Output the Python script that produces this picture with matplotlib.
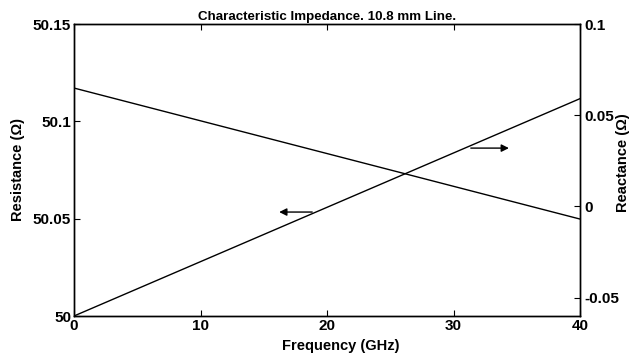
import matplotlib
matplotlib.use("Agg")
import matplotlib.pyplot as plt

plt.rcParams['font.family'] = ['Liberation Sans', 'DejaVu Sans']
plt.rcParams['font.weight'] = 'bold'

freq = [0, 40]
resistance = [50.1171, 50.0498]
reactance = [-0.06, 0.0591]
x_ticks = [0, 10, 20, 30, 40]
left_ticks = [50, 50.05, 50.1, 50.15]
left_labels = ['50', '50.05', '50.1', '50.15']
right_ticks = [-0.05, 0, 0.05, 0.1]
right_labels = ['-0.05', '0', '0.05', '0.1']

fig = plt.figure(figsize=(6.42, 3.56), dpi=100)
ax = fig.add_axes([74/642, 1-316/356, (580-74)/642, (316-24)/356])
ax.plot(freq, resistance, color='black', lw=1)
ax.set_xlim(0, 40)
ax.set_ylim(50, 50.15)
ax.set_xticks(x_ticks)
ax.set_xticklabels([str(t) for t in x_ticks])
ax.set_yticks(left_ticks)
ax.set_yticklabels(left_labels)
ax.tick_params(direction='in', length=4, labelsize=11, top=True, pad=2)
ax.set_xlabel('Frequency (GHz)', fontsize=10.5, fontweight='bold')
ax.xaxis.set_label_coords(0.528, -0.103)
ax.xaxis.label.set_va('center')
ax.set_ylabel('Resistance (Ω)', fontsize=10.5, fontweight='bold')
ax.yaxis.set_label_coords(-0.111, 0.5)
ax.yaxis.label.set_va('center')
ax.set_title('Characteristic Impedance. 10.8 mm Line.', fontsize=9.6, fontweight='bold', pad=3)

ax2 = ax.twinx()
ax2.plot(freq, reactance, color='black', lw=1)
ax2.set_ylim(-0.06, 0.1)
ax2.set_yticks(right_ticks)
ax2.set_yticklabels(right_labels)
ax2.tick_params(direction='in', length=4, labelsize=11, pad=3)
ax2.set_ylabel('Reactance (Ω)', fontsize=10.5, fontweight='bold')
ax2.yaxis.set_label_coords(1.085, 0.524)
ax2.yaxis.label.set_va('center')

for a in (ax, ax2):
    for s in a.spines.values():
        s.set_linewidth(1)

ax.annotate('', xy=(16.0, 50.0534), xytext=(19.05, 50.0534),
            arrowprops=dict(arrowstyle='-|>', color='black', lw=1, mutation_scale=11))
ax2.annotate('', xy=(34.6, 0.032), xytext=(31.15, 0.032),
             arrowprops=dict(arrowstyle='-|>', color='black', lw=1, mutation_scale=11))

fig.savefig('out.png', dpi=100)
